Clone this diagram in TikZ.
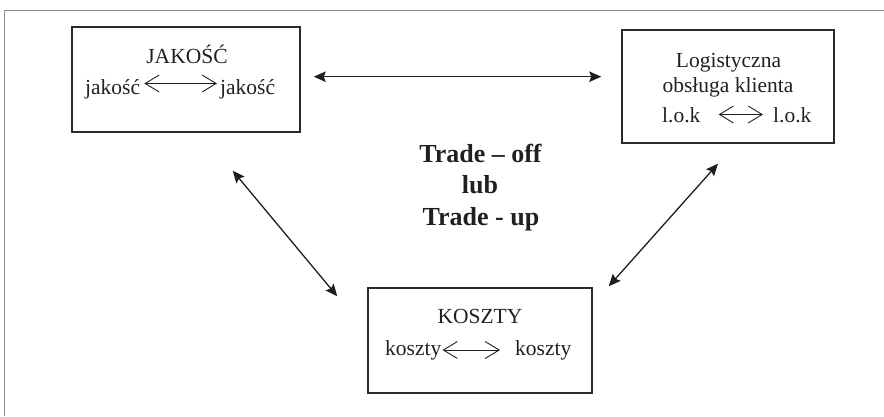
\documentclass[tikz,border=0pt]{standalone}
\usepackage{fontspec}
\setmainfont{Liberation Serif}
\usetikzlibrary{arrows.meta}
\definecolor{boxcol}{HTML}{2A2A2A}
\definecolor{txtcol}{HTML}{231F20}
\definecolor{arrcol}{HTML}{1E1E1E}
\definecolor{framecol}{HTML}{8C8C8C}
\begin{document}
\begin{tikzpicture}[x=1pt,y=-1pt,
  box/.style={draw=boxcol, line width=1.5pt, rectangle, inner sep=0pt},
  txt/.style={inner sep=0pt, anchor=base, font=\fontsize{21.5}{25}\selectfont, text=txtcol},
  txtw/.style={txt, anchor=base west},
  boldtxt/.style={inner sep=0pt, anchor=base, font=\fontsize{26}{30}\selectfont\bfseries, text=txtcol},
  conn/.style={line width=1.3pt, draw=arrcol, {Stealth[length=12pt,width=10.5pt,inset=2pt]}-{Stealth[length=12pt,width=10.5pt,inset=2pt]}},
  txtarrow/.style={line width=0.9pt, draw=txtcol, {Straight Barb[length=14pt,width=17pt]}-{Straight Barb[length=14pt,width=17pt]}},
  frame/.style={draw=framecol, line width=1.6pt}
]
\useasboundingbox (0,0) rectangle (884,416);
\draw[frame] (884,10.5) -- (4.5,10.5) -- (4.5,416);

% boxes
\node[box, minimum width=228pt, minimum height=105pt] (jak) at (186,79.5) {};
\node[box, minimum width=212pt, minimum height=113pt] (log) at (728,86.5) {};
\node[box, minimum width=224pt, minimum height=105pt] (kos) at (480,340.5) {};

% box 1 texts
\node[txt] (jt) at (187,63) {JAKOŚĆ};
\node[txtw] (jl) at (85,94) {jakość};
\node[txtw] (jr) at (220,94) {jakość};
\draw[txtarrow] ([shift={(4pt,10.5pt)}]jl.base east) -- ([shift={(-3pt,10.5pt)}]jr.base west);

% box 2 texts
\node[txt] (lt1) at (728.5,67) {Logistyczna};
\node[txt] (lt2) at (728,92) {obsługa klienta};
\node[txtw] (ll) at (662,122) {l.o.k};
\node[txtw] (lr) at (773,122) {l.o.k};
\draw[txtarrow] ([shift={(18pt,7.5pt)}]ll.base east) -- ([shift={(-10pt,7.5pt)}]lr.base west);

% box 3 texts
\node[txt] (kt) at (480,323) {KOSZTY};
\node[txtw] (kl) at (385,355) {koszty};
\node[txtw] (kr) at (515,355) {koszty};
\draw[txtarrow] ([shift={(1pt,5pt)}]kl.base east) -- ([shift={(-15pt,5pt)}]kr.base west);

% centre text
\node[boldtxt] (c1) at (480.5,162) {Trade – off};
\node[boldtxt] (c2) at (480,193.5) {lub};
\node[boldtxt] (c3) at (481,225) {Trade - up};

% connectors
\draw[conn] ([shift={(13pt,2.8pt)}]jak.east) -- ([shift={(-20pt,9.8pt)}]log.west);
\draw[conn] ([shift={(-68pt,-38pt)}]jak.south east) -- ([shift={(-30pt,-9pt)}]kos.north west);
\draw[conn] ([shift={(-10pt,-20pt)}]log.south) -- ([shift={(16pt,1pt)}]kos.north east);
\end{tikzpicture}
\end{document}
